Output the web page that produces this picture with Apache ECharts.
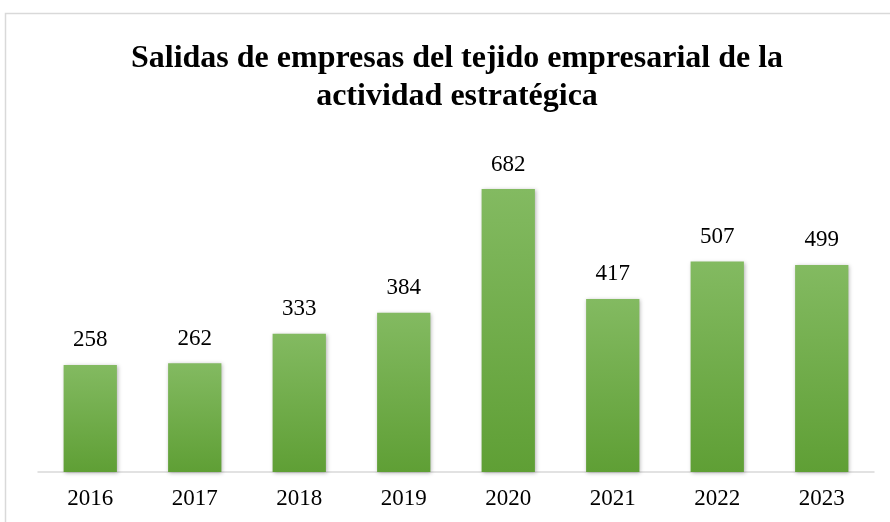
<!DOCTYPE html>
<html><head><meta charset="utf-8">
<script src="https://cdn.jsdelivr.net/npm/echarts@6/dist/echarts.min.js"></script>
<style>html,body{margin:0;padding:0;background:#fff}#c{width:890px;height:522px}</style>
</head><body><div id="c"></div>
<script>
const years = ['2016','2017','2018','2019','2020','2021','2022','2023'];
const salidas = [258,262,333,384,682,417,507,499];
const titleText = 'Salidas de empresas del tejido empresarial de la\nactividad estratégica';

const chart = echarts.init(document.getElementById('c'));
chart.setOption({
  animation:false,
  backgroundColor:'#fff',
  graphic:[{type:'rect',shape:{x:5.5,y:13.5,width:900,height:600},style:{fill:'none',stroke:'#d9d9d9',lineWidth:1.5}}],
  title:{text:titleText,left:452,top:35,textAlign:'center',
    textStyle:{fontFamily:'Liberation Serif',fontWeight:'bold',fontSize:32,color:'#000',lineHeight:38}},
  grid:{left:38,right:16,top:140,bottom:50},
  xAxis:{type:'category',data:years,
    axisLine:{lineStyle:{color:'#d9d9d9',width:1.5}},axisTick:{show:false},
    axisLabel:{fontFamily:'Liberation Serif',fontSize:23,color:'#000',margin:15}},
  yAxis:{type:'value',min:0,max:800,show:false,splitLine:{show:false}},
  series:[{type:'bar',data:salidas,barWidth:'51%',
    itemStyle:{color:new echarts.graphic.LinearGradient(0,0,0,1,[{offset:0,color:'#83ba61'},{offset:1,color:'#5f9f35'}]),
      shadowColor:'rgba(0,0,0,0.3)',shadowBlur:4,shadowOffsetX:1,shadowOffsetY:1},
    label:{show:true,position:'top',distance:13,fontFamily:'Liberation Serif',fontSize:23,color:'#000'}}]
});
</script></body></html>
